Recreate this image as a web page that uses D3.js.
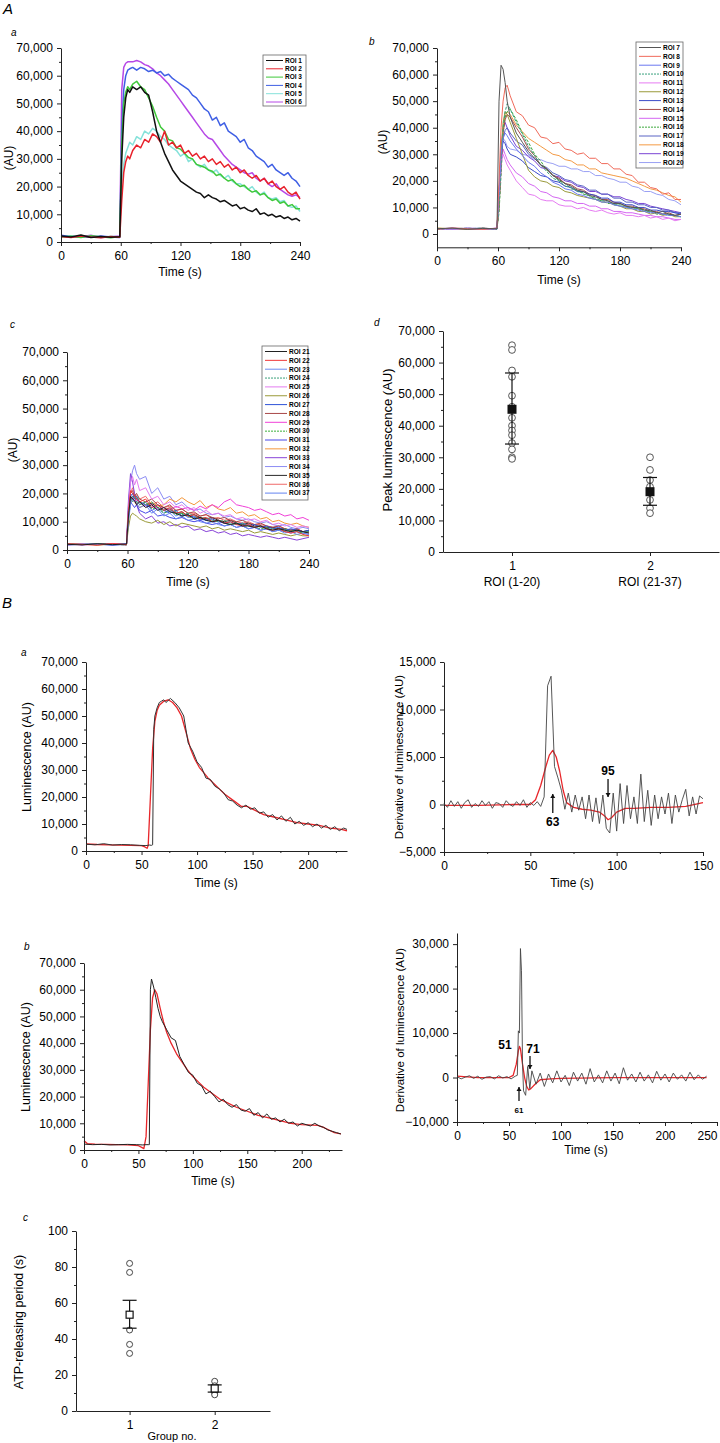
<!DOCTYPE html>
<html><head><meta charset="utf-8">
<script src="https://cdn.jsdelivr.net/npm/d3@7"></script>
<style>body{margin:0;background:#fff}svg text{font-family:"Liberation Sans",Arial,sans-serif;fill:#000}</style>
</head><body>
<script>
// ---------------- DATA ----------------
// Panel A a (values in thousands AU)
const tA=[0,10,20,30,40,50,59,61,63,65,67,69,72,76,80,84,88,92,96,100,104,108,112,116,120,124,128,132,136,140,144,148,152,156,160,164,168,172,176,180,184,188,192,196,200,204,208,212,216,220,224,228,232,236,240];
const aaNames=["ROI 1","ROI 2","ROI 3","ROI 4","ROI 5","ROI 6"];
const aaColors=["#111111","#e8222c","#3fc83a","#3f5fe4","#86e2da","#b648e6"];
const aaValues=[
[2.2,1.8,2.5,1.6,2.0,1.7,1.9,30,45,52,55,54,56,55,56,54,53,47,40,36,32,29,26,24,22,21,20,19,18,17.5,16,17,16,15.5,14.5,15,14,13,13.5,12,12.5,11.5,11,12,10,10.5,9.5,10,9,9.5,8.5,9,8,8.5,7.5],
[2.0,1.6,2.2,1.8,1.5,2.0,1.7,15,25,29,31,30,33,35,34,37,36,39,38,36,40,35,36,34,35,32,33,31,32,30,31,29,30,28,29,27,28,26,27,25,26,24,23,24,22,23,21,22,20,19,20,18,17,18,15.5],
[1.8,2.1,1.6,2.3,1.9,1.5,2.0,35,50,54,56,55,57,58,56,55,52,49,45,41.5,40,37,36.5,34,33.5,32,30.5,30,28,27.5,27,26,25.5,24,24.5,23,22,22.5,21,20,20.5,19,18,18.5,17,17.5,16,15,15.5,14,14.5,13,13.5,12,12],
[2.4,1.9,2.0,1.7,2.2,1.8,1.6,40,55,60,62,62.5,63,62,63,62.5,61.5,62,61,61.5,60,60.5,59,58,57,56,55,53,52,50,48,47,44,45,42,43,40,39,38,36,37,34,33,31,30,29,27,28,26,25,24,25,23,22,20],
[1.9,2.3,1.7,2.0,1.6,2.1,1.8,20,28,32,34,36,35,38,37,40,39,41,40,38,37,35,34,33,31,32,29,30,28,27,28,26,25,26,24,23,24,22,21,21,20,19,20,18,17,18,16,15.5,16,14.5,15,13,12.5,13,11],
[2.0,1.7,1.9,2.4,1.6,1.9,2.2,55,63,64.5,65,65,65,65.5,65,64,63.5,62.5,61,60,58.5,57,55,53,51,49,47,45,43,41,39,37.5,37,35,33,31,29.5,28,27,26,25,24.5,25,23,22,23,21,20,21,19,18,17,16.5,17,16]
];
// Panels A b / A c share one time grid
const tB=[0,15,30,45,59,61,63,65,67,69,72,78,84,90,96,102,108,114,120,126,132,138,144,150,156,162,168,174,180,186,192,198,204,210,216,222,228,234,240];
const abNames=["ROI 7","ROI 8","ROI 9","ROI 10","ROI 11","ROI 12","ROI 13","ROI 14","ROI 15","ROI 16","ROI 17","ROI 18","ROI 19","ROI 20"];
const abColors=["#555555","#f06a5a","#6a78f0","#38a07c","#e67cf2","#9a9a3a","#3a4ac8","#a84c4c","#d466f2","#3ca83c","#5a64c4","#f49a44","#7a44d4","#9aa0f4"];
const abDashed=[0,0,0,1,0,0,0,0,0,1,0,0,0,0];
const abValues=[
[2.0,2.2,1.8,2.1,2.0,50,63.5,62,57,50,44,38,34.5,31,28.5,26,24.5,22,20.5,19,18,16.5,16,14.5,14,13,12.5,11.5,11.5,10.5,10,10,9,9,8,8.5,7.5,7,7.5],
[1.8,2.3,2.0,1.7,2.2,20,40,50,55,56,52,46,44.5,41,40,36.5,36,34,34.5,32,31.5,30,30.5,28.5,28.5,26.5,26.5,24.5,24.5,22.5,22,19.5,19.5,17.5,17,15,15.5,13,13],
[2.1,1.9,2.2,1.8,2.0,15,30,36,38,37,35,32,29.5,27,25.5,23,21.5,19.5,18.5,17,16.5,15,14.5,13.5,13,12,12,11,10.5,10,9.5,9,8.5,8,8,7.5,7,7,6.5],
[1.9,2.1,2.0,2.2,1.8,10,25,40,46,49,47,42,37.5,33,29.5,26,23.5,21,20,18,17.5,16,15.5,14,13.5,12.5,12.5,11,11,10,10,9.5,9,8.5,8,7.5,7.5,7,6.5],
[2.0,1.8,2.1,1.9,2.2,15,28,30,28,26,24,20,17.5,15,14.5,13,12.5,12.5,11,10.5,10.5,9.5,10,9,8.5,9,8,7.5,8,7,7,6.5,7,6,6.5,5.5,6,5,5.5],
[2.2,2.0,1.9,2.1,2.0,10,30,42,46,45,42,36,30,24,21.5,20,19.5,18,17.5,16,15.5,14.5,14,13.5,13,12,12,11,10.5,9.5,9.5,8.5,8.5,7.5,8,7,7.5,6.5,6.5],
[1.9,2.2,2.0,1.8,2.1,15,30,35,34,32,30,29,27.5,25,23.5,22,21.5,20,19.5,18,17.5,16,16,15,14.5,13.5,13.5,12,12,11,11,10,10,9,9,8.5,8.5,8,7.5],
[2.0,2.1,1.8,2.2,1.9,10,25,38,43,45,44,40,36.5,32,29.5,26,24.5,22,21,19,18.5,17,16.5,15,14.5,13,13,12,11.5,10.5,10.5,9.5,9.5,8.5,8.5,7.5,8,7,7.5],
[2.1,1.9,2.2,2.0,1.8,12,25,32,30,28,26,23,21.5,19,18,16,15.5,14,13.5,12.5,12.5,11.5,11.5,10.5,10.5,9.5,9.5,8.5,8.5,8,8,7.5,7,7,6.5,6.5,6,5.5,5.5],
[1.8,2.0,2.2,1.9,2.1,8,22,38,44,46,47,43,38,34.5,30,27.5,24,22.5,20,19,17,16.5,15,14.5,13,12.5,11.5,11.5,10.5,10.5,9.5,9.5,8.5,8.5,7.5,7.5,7,7,6.5],
[2.0,1.8,2.1,2.2,1.9,12,28,36,39,40,38,35,33.5,30,28.5,26,25,23,22,20.5,20,18.5,18,16.5,16.5,15,15,13.5,13.5,12,12,11,11,10,10,9,9,8,8],
[2.2,2.0,1.9,2.1,2.0,15,30,40,45,46,45,41,38.5,36,34.5,33,31.5,30,29.5,28,27.5,26,26,24.5,24.5,23,22.5,22,21.5,21,20,19,18,17,16.5,15.5,14.5,14,12],
[1.9,2.1,2.0,1.8,2.2,15,32,40,42,40,37,33,31.5,29,27.5,25,24.5,22,21.5,20,19.5,18,17.5,16,16,15,15,14,14,13,12.5,11.5,11.5,10.5,10,9.5,9,8.5,8],
[2.0,2.2,1.8,2.0,2.1,15,30,36,35,33,32,31.5,30,29.5,28,28,27,26.5,25.5,25.5,24.5,24.5,23.5,23.5,22,22,21,20.5,19.5,19.5,18,17.5,16,16,15,14.5,13,12.5,11]
];
const acNames=["ROI 21","ROI 22","ROI 23","ROI 24","ROI 25","ROI 26","ROI 27","ROI 28","ROI 29","ROI 30","ROI 31","ROI 32","ROI 33","ROI 34","ROI 35","ROI 36","ROI 37"];
const acColors=["#222222","#f03838","#6a8af0","#3aa07a","#e47cf0","#9a9a38","#2e52d8","#a84848","#f040d8","#3cb03c","#4848e8","#f4983c","#8844d8","#8c8cf4","#2a2a2a","#f06a6a","#6484f0"];
const acDashed=[0,0,0,1,0,0,0,0,0,1,0,0,0,0,0,0,0];
const acValues=[
[2.0,1.8,2.2,1.9,2.1,12,19,18,17.5,16,17,15,16,14,15,13.5,13,12,12.5,11,11.5,10.5,10,10.5,9.5,9,9.5,8.5,8.5,8,8.5,7.5,7,7.5,7,6.5,7,6.5,6],
[2.2,2.0,1.7,2.3,1.9,14,21,20,19,18,17,18,15,16,14,15,13,13.5,12,12.5,11,11.5,10,10.5,9.5,10,9,8.5,9,8,8.5,7.5,7,7.5,6.5,6,6.5,5.5,5],
[1.9,2.1,2.0,1.8,2.2,10,16,18,17,16.5,15,16,13,14.5,12,13,11,12,10.5,11,10,9.5,10,9,8.5,9,8,8.5,7.5,8,7,7.5,6.5,7,6,6.5,5.5,6,5.5],
[2.1,1.9,2.3,2.0,1.8,11,17,19,18,19,17,16,17,15,14,15,13.5,12.5,13,12,11,11.5,10.5,10,10.5,9.5,9,9.5,8.5,8,8.5,7.5,7.5,7,7.5,6.5,7,6.5,6.5],
[1.8,2.2,1.9,2.1,2.0,15,24,26,23,25,21,22,18,19,16,17,15,16,14,15,13,14,12.5,13,12,12.5,11,11.5,10.5,11,10,10.5,9,9.5,8.5,9,8,8.5,8],
[2.0,2.3,1.8,2.0,1.9,8,12,13,12.5,12,11,10,9.5,10.5,9,10,8.5,9.5,9,8.5,8,8.5,7.5,8,7,7.5,7,6.5,7,6,6.5,6,5.5,6,5.5,5,5.5,5,5],
[2.2,1.9,2.1,1.7,2.0,13,19,20,18,19,17,16,15,16,14,13,14,12,12.5,11.5,11,10.5,11,10,9.5,10,9,9.5,8.5,9,8,8.5,7.5,8,7,7.5,7,6.5,7],
[1.9,2.0,2.2,2.1,1.8,14,20,21,19,20,18,17,18,16,15,16,14,14.5,13,13.5,12,12.5,11.5,11,11.5,10.5,10,10.5,9.5,9,9.5,8.5,8,8.5,7.5,7,7.5,6.5,6.5],
[2.1,1.8,2.0,2.2,1.9,12,18,19,17,18,17,15.5,16,14.5,15,14,15.5,14.5,15,14,15.5,14.5,16,15,17,18,16,15.5,15,14,14.5,13.5,12.5,13,12,12.5,11,11.5,10.5],
[2.0,2.1,1.9,2.3,2.0,12,18,17,18.5,17,16,17,14.5,15,13,14,12.5,13,12,11,11.5,10.5,10,10.5,9.5,9,9.5,8.5,8.5,8,7.5,8,7,7.5,6.5,7,6.5,6,6.5],
[1.8,2.0,2.1,1.9,2.2,12,17,16,15,16,14,13,14,12,12.5,11.5,11,11.5,10.5,10,10.5,9.5,9,9.5,8.5,9,8,8.5,7.5,8,7,7.5,6.5,7,6.5,6,6.5,6,5.5],
[2.3,2.0,1.8,2.1,2.0,11,17,18,17,16,15,16,17,15.5,16,18,17,18.5,17,16,17.5,15,16,14.5,14,15,13,13.5,12,12.5,11,11.5,10,10.5,9.5,9,9.5,8.5,8],
[2.0,1.9,2.2,1.8,2.1,18,27,24,20,16,13,11,12,9.5,10,8.5,9,8,8.5,7,7.5,6.5,7,6,6.5,5.5,6,5,5.5,5,4.5,5,4.5,4,4.5,4,3.5,4,4.5],
[1.9,2.2,2.0,2.1,1.8,16,24,28,30,27,25,26,20,22,18,19,16,17,15,14,14.5,13,12.5,13,11.5,12,11,10.5,11,10,9.5,10,9,8.5,9,8,7.5,8,7.5],
[2.1,2.0,1.9,2.2,2.0,13,19,18,19.5,18,17,16,16.5,15,14,14.5,13,13.5,12,12.5,11.5,11,11.5,10.5,10,10.5,9.5,9,9.5,8.5,8.5,8,8,7.5,7.5,7,7,6.5,7],
[2.0,2.2,2.1,1.9,2.3,14,20,22,20,19,18,19,16,17,15,15.5,14,14.5,13,13,12,12.5,11,11.5,10.5,11,10,9.5,10,9,9,8.5,8,8.5,7.5,7,7.5,6.5,6],
[1.8,2.0,2.2,2.0,1.9,12,18,19,17,18,16,17,14,15,13,14,12,13,11.5,12,10.5,11,10,10.5,9.5,9,9.5,8.5,9,8,8.5,7.5,8,7,7.5,6.5,7,6.5,6.5]
];
// Panel A d: peak luminescence (thousands)
const adCats=[1,2];
const adCatLabels=["ROI (1-20)","ROI (21-37)"];
const adGroup1=[65.5,64,57.5,55.5,49.5,46,42.5,40,38.5,37,34.5,32.5,30,29.5];
const adGroup2=[30,26,22.8,20.7,16.5,13.9,12.3];
const adMean=[45.2,19.1];
const adLow=[34.2,14.8];
const adHigh=[56.7,23.6];
// Panel B a: raw and smoothed luminescence
const tBaRaw=[0,8,16,24,32,40,48,54,57,59,60,61,62,64,66,68,70,72,76,80,84,88,92,96,100,104,108,112,116,120,124,128,132,136,140,144,148,152,156,160,164,168,172,176,180,184,188,192,196,200,204,208,212,216,220,224,228,232,235];
const baRaw=[2.5,2.3,2.7,2.2,2.4,2.3,2.1,2.0,2.2,2.1,2.3,45,50,53,55,55.5,56,55,56.5,55,53,50,40,37,33,31,27,26.5,24,23,21.5,19,18.5,17,16,17,15.5,16,14,14.5,12.5,13.5,11.5,13,11,12.5,10,11,9.5,10.5,9,10,8.5,9.5,8,9,7.5,8.5,8];
const tBaFit=[0,10,20,30,40,50,53,55,56,58,60,62,64,66,70,74,78,82,86,90,94,98,102,106,110,115,120,125,130,135,140,145,150,155,160,170,180,190,200,210,220,230,235];
const baFit=[2.6,2.4,2.3,2.2,2.1,2.0,1.5,1.0,2,20,38,48,52,54,55.5,56,55,53,50,44,38,34,31,29,27,25,23,21,19.5,18,16.5,16.5,15.5,14.5,13.5,12.5,11.5,10.5,10,9.5,8.5,8,7.5];
const tBaDer=[0,2,4,6,8,10,12,14,16,18,20,22,24,26,28,30,32,34,36,38,40,42,44,46,48,50,52,54,56,58,60,62,64,66,68,70,72,74,76,78,80,82,84,86,88,90,92,94,96,98,100,102,104,106,108,110,112,114,116,118,120,122,124,126,128,130,132,134,136,138,140,142,144,146,148,150];
const baDer=[0.1,-0.3,0.4,-0.2,0.3,-0.4,0.2,0.5,-0.3,0.1,-0.2,0.4,-0.1,0.3,-0.4,0.2,0.1,-0.3,0.4,0.0,-0.2,0.3,-0.1,0.5,-0.3,0.2,-0.1,0.3,-0.2,0.8,12.5,13.5,4.0,2.8,1.5,-0.5,1.2,-0.8,1.0,-0.6,0.8,-1.5,1.0,-1.8,0.7,-2.0,1.0,-2.5,-3.0,1.2,-2.8,2.2,-2.0,2.0,-1.5,0.8,-2.0,3.2,-1.8,1.5,-2.2,1.0,-1.5,0.8,-1.0,1.2,-2.0,1.0,-0.8,0.5,1.6,-1.2,0.8,-1.0,0.9,0.6];
const tBaDerFit=[0,20,40,50,53,56,59,61,63,65,67,69,71,75,80,85,90,93,95,97,100,105,110,120,130,140,150];
const baDerFit=[-0.1,-0.1,0,0,0.5,2,4,5.2,5.7,5.0,3.5,1.5,0.2,-0.3,-0.5,-0.6,-0.8,-1.2,-1.6,-1.4,-0.8,-0.4,-0.4,-0.3,-0.3,-0.2,0.2];
// Panel B b
const tBbRaw=[0,8,16,24,32,40,48,54,57,59,60,61,62,64,66,68,70,72,76,80,84,88,92,96,100,104,108,112,116,120,124,128,132,136,140,144,148,152,156,160,164,168,172,176,180,184,188,192,196,200,204,208,212,216,220,224,228,232,236];
const bbRaw=[2.2,2.0,2.1,1.9,2.0,2.1,2.0,1.9,2.0,2.0,2.0,60,64,61,57,53,50,48,45,42,41,35,32,29,28,25,24,21,22,20,18,19,17,16,17,15,14.5,15.5,13,14,12,13.5,11.5,12,10.5,11.5,10,10.5,9,10,9.5,9,10,9,8.5,7.5,7,6.5,6];
const tBbFit=[0,3,10,20,30,40,50,53,55,57,59,61,63,65,67,70,73,76,80,85,90,95,100,105,110,115,120,125,130,140,150,160,170,180,190,200,210,215,220,225,230,236];
const bbFit=[3.5,2.4,2.2,2.1,2.0,1.9,1.6,1.0,0.5,5,25,45,57,60,58.5,53,48,44,40,36,33,30,27.5,25.5,23.5,22,20.5,19,18,16,14.5,13,12,11,10,9.5,9.3,9.2,8.5,7.5,6.5,6];
const tBbDer=[0,4,8,12,16,20,24,28,32,36,40,44,48,52,56,58,59,60,61,62,63,64,66,68,70,72,76,80,84,88,92,96,100,104,108,112,116,120,124,128,132,136,140,144,148,152,156,160,164,168,172,176,180,184,188,192,196,200,204,208,212,216,220,224,228,232,236,240];
const bbDer=[0.2,-0.3,0.1,0.4,-0.2,0.3,-0.4,0.1,0.2,-0.3,0.4,-0.1,0.2,-0.3,0.3,0.5,10.5,10,29,24,3,-3,-4,2.5,-2.5,1.5,-1.5,1.0,-2.0,0.8,-1.2,1.5,-1.0,0.5,-1.8,1.2,-0.8,1.0,-1.5,2.0,-1.0,0.6,-1.2,1.5,-0.8,1.0,-1.4,2.2,-0.6,0.8,-1.0,1.2,-0.8,0.6,-1.2,1.4,-0.6,0.8,-1.0,1.0,-0.4,0.6,-0.8,1.2,-0.5,0.6,-0.4,0.3];
const tBbDerFit=[0,20,40,50,54,57,59,60,61,63,65,67,69,71,75,80,90,100,150,200,240];
const bbDerFit=[0.3,0,0,0,0.5,3,6,7,6.5,3,0,-2,-2.8,-2.5,-1.5,-0.5,-0.3,-0.2,0,0,0];
// Panel B c: ATP-releasing period (s)
const bcCats=[1,2];
const bcGroup1=[82,77,45,37,32];
const bcGroup2=[16.5,14,10,9];
const bcMean=[53.5,12.5];
const bcLow=[46,10.5];
const bcHigh=[61.5,14.5];

// ---------------- DRAWING ----------------
const svg=d3.select("body").append("svg").attr("width",720).attr("height",1443);
const comma=d3.format(",");
const FS=12;
function panel(p){
  const x=d3.scaleLinear().domain(p.xd).range([p.l,p.r]);
  const y=d3.scaleLinear().domain(p.yd).range([p.b,p.t]);
  const g=svg.append("g");
  const xb=p.b;
  g.append("g").attr("class","xax").attr("transform",`translate(0,${xb})`)
    .call(d3.axisBottom(x).tickValues(p.xt).tickSize(4).tickSizeOuter(0).tickPadding(5).tickFormat(p.xf||(d=>d)));
  if(p.xm) g.append("g").attr("transform",`translate(0,${xb})`)
    .call(d3.axisBottom(x).tickValues(p.xm).tickSize(2).tickFormat("")).call(s=>s.select(".domain").remove());
  g.append("g").attr("transform",`translate(${p.l},0)`)
    .call(d3.axisLeft(y).tickValues(p.yt).tickSize(4).tickSizeOuter(0).tickPadding(4).tickFormat(p.yf||(d=>comma(d))));
  if(p.ym) g.append("g").attr("transform",`translate(${p.l},0)`)
    .call(d3.axisLeft(y).tickValues(p.ym).tickSize(2).tickFormat("")).call(s=>s.select(".domain").remove());
  g.selectAll(".tick text").attr("font-size",FS).attr("font-family",null).style("fill","#000");
  g.selectAll("path.domain,.tick line").attr("stroke","#222");
  return {x,y,g};
}
function lines(P,t,vals,colors,width,dashed,scale){
  vals.forEach((v,i)=>{
    const line=d3.line().x((d,j)=>P.x(t[j])).y(d=>P.y(d*scale));
    P.g.insert("path",":first-child").datum(v).attr("d",line).attr("fill","none")
      .attr("stroke",colors[i]).attr("stroke-width",width).attr("stroke-linejoin","round")
      .attr("stroke-dasharray",dashed&&dashed[i]?"3,1.5":null);
  });
}
function txt(x,y,s,o={}){
  const t=svg.append("text").attr("x",x).attr("y",y).text(s)
    .attr("font-size",o.fs||FS).attr("text-anchor",o.anchor||"middle");
  if(o.rot) t.attr("transform",`rotate(-90,${x},${y})`);
  if(o.italic) t.attr("font-style","italic");
  if(o.bold) t.attr("font-weight","bold");
  return t;
}
function legend(x0,y0,w,h,names,colors,dashed,rowH,lineW){
  svg.append("rect").attr("x",x0).attr("y",y0).attr("width",w).attr("height",h).attr("fill","#fff").attr("stroke","#666").attr("stroke-width",0.8);
  names.forEach((n,i)=>{
    const yy=y0+5.5+i*rowH;
    svg.append("line").attr("x1",x0+3).attr("x2",x0+3+lineW).attr("y1",yy).attr("y2",yy)
      .attr("stroke",colors[i]).attr("stroke-width",1)
      .attr("stroke-dasharray",dashed&&dashed[i]?"2,1":null);
    svg.append("text").attr("x",x0+5+lineW).attr("y",yy+2.3).text(n).attr("font-size",6.5).attr("font-weight","bold");
  });
}
const yT70=d3.range(0,70001,10000), yM70=d3.range(5000,70000,10000);

// ---- A a ----
const Aa=panel({l:61,r:300,t:48,b:242,xd:[0,240],yd:[0,70000],xt:[0,60,120,180,240],xm:[30,90,150,210],yt:yT70,ym:yM70});
lines(Aa,tA,aaValues,aaColors,1.5,null,1000);
legend(263,55,43,51,aaNames,aaColors,null,8.3,17);
txt(180,276,"Time (s)");
txt(13,158,"(AU)",{rot:true});
// ---- A b ----
const Ab=panel({l:437,r:681,t:48,b:247.3,xd:[0,240],yd:[-5000,70000],xt:[0,60,120,180,240],xm:[30,90,150,210],yt:yT70,ym:yM70});
lines(Ab,tB,abValues,abColors,1.0,abDashed,1000);
legend(636,42,47,126,abNames,abColors,abDashed,8.85,22);
txt(559,284,"Time (s)");
txt(387,142,"(AU)",{rot:true});
// ---- A c ----
const Ac=panel({l:67,r:309,t:352,b:550,xd:[0,240],yd:[0,70000],xt:[0,60,120,180,240],xm:[30,90,150,210],yt:yT70,ym:yM70});
lines(Ac,tB,acValues,acColors,1.0,acDashed,1000);
legend(262,346,46,154,acNames,acColors,acDashed,8.85,22);
txt(188,586,"Time (s)");
txt(17,450,"(AU)",{rot:true});
// ---- A d ----
const Ad=panel({l:443,r:719,t:331,b:552,xd:[0.5,2.5],yd:[0,70000],xt:adCats,yt:yT70,ym:yM70});
[adGroup1,adGroup2].forEach((gv,i)=>{
  Ad.g.selectAll(null).data(gv).enter().append("circle").attr("cx",Ad.x(adCats[i])).attr("cy",d=>Ad.y(d*1000)).attr("r",3.4)
    .attr("fill","#fff").attr("stroke","#444").attr("stroke-width",0.9);
});
adCats.forEach((c,i)=>{
  const cx=Ad.x(c);
  Ad.g.append("line").attr("x1",cx).attr("x2",cx).attr("y1",Ad.y(adLow[i]*1000)).attr("y2",Ad.y(adHigh[i]*1000)).attr("stroke","#111").attr("stroke-width",1.2);
  [adLow[i],adHigh[i]].forEach(v=>Ad.g.append("line").attr("x1",cx-7).attr("x2",cx+7).attr("y1",Ad.y(v*1000)).attr("y2",Ad.y(v*1000)).attr("stroke","#111").attr("stroke-width",1.2));
  Ad.g.append("rect").attr("x",cx-4.5).attr("y",Ad.y(adMean[i]*1000)-4.5).attr("width",9).attr("height",9).attr("fill","#111");
  txt(cx,586,adCatLabels[i]);
});
txt(392,440,"Peak luminescence (AU)",{rot:true,fs:13});
// ---- B a left ----
const BaL=panel({l:86,r:347,t:662,b:851,xd:[0,235],yd:[0,70000],xt:[0,50,100,150,200],xm:[25,75,125,175,225],yt:yT70,ym:yM70});
lines(BaL,tBaFit,[baFit],["#e8262a"],1.3,null,1000);
lines(BaL,tBaRaw,[baRaw],["#333"],1,null,1000);
BaL.g.select("path").raise();
txt(216,887,"Time (s)");
txt(31,757,"Luminescence (AU)",{rot:true,fs:12.5});
// ---- B a right ----
const BaR=panel({l:444,r:703,t:662,b:852,xd:[0,150],yd:[-5000,15000],xt:[0,50,100,150],xm:[25,75,125],yt:[-5000,0,5000,10000,15000],ym:[-2500,2500,7500,12500]});
lines(BaR,tBaDerFit,[baDerFit],["#e8262a"],1.3,null,1000);
lines(BaR,tBaDer,[baDer],["#444"],0.9,null,1000);
BaR.g.select("path").raise();
txt(572,887,"Time (s)");
txt(403,757,"Derivative of luminescence (AU)",{rot:true,fs:11.5});
function arrow(x,y1,y2){
  svg.append("line").attr("x1",x).attr("x2",x).attr("y1",y1).attr("y2",y2).attr("stroke","#111").attr("stroke-width",1.3);
  const d=y2>y1?1:-1;
  svg.append("path").attr("d",`M${x-2.5},${y2-4*d}L${x+2.5},${y2-4*d}L${x},${y2}Z`).attr("fill","#111");
}
txt(BaR.x(95),775,"95",{fs:12,bold:true});
arrow(BaR.x(95),779,797);
arrow(BaR.x(63),813,794);
txt(BaR.x(63),826,"63",{fs:12,bold:true});
// ---- B b left ----
const BbL=panel({l:84,r:342,t:963,b:1150,xd:[0,237],yd:[0,70000],xt:[0,50,100,150,200],xm:[25,75,125,175,225],yt:yT70,ym:yM70});
lines(BbL,tBbFit,[bbFit],["#e8262a"],1.3,null,1000);
lines(BbL,tBbRaw,[bbRaw],["#222"],1,null,1000);
BbL.g.select("path").raise();
txt(213,1185,"Time (s)");
txt(30,1057,"Luminescence (AU)",{rot:true,fs:12.5});
// ---- B b right ----
const BbR=panel({l:457,r:717,t:933,b:1122,xd:[0,250],yd:[-10000,32500],xt:[0,50,100,150,200,250],xm:[25,75,125,175,225],yt:[-10000,0,10000,20000,30000],ym:[-5000,5000,15000,25000]});
BbR.g.select(".xax").selectAll(".tick text").filter(d=>d===250).attr("dx",-10);
lines(BbR,tBbDerFit,[bbDerFit],["#e8262a"],1.3,null,1000);
lines(BbR,tBbDer,[bbDer],["#444"],0.9,null,1000);
BbR.g.select("path").raise();
txt(586,1154,"Time (s)");
txt(404,1030,"Derivative of luminescence (AU)",{rot:true,fs:11.5});
txt(505,1049,"51",{fs:12,bold:true});
txt(533,1053,"71",{fs:12,bold:true});
arrow(530,1056,1069);
arrow(519,1101,1087);
txt(519,1113,"61",{fs:8,bold:true});
// ---- B c ----
const Bc=panel({l:76,r:270,t:1231,b:1411,xd:[0.37,2.65],yd:[0,100],xt:bcCats,yt:[0,20,40,60,80,100],ym:[10,30,50,70,90],yf:d=>d});
[bcGroup1,bcGroup2].forEach((gv,i)=>{
  Bc.g.selectAll(null).data(gv).enter().append("circle").attr("cx",Bc.x(bcCats[i])).attr("cy",d=>Bc.y(d)).attr("r",3)
    .attr("fill","#fff").attr("stroke","#333").attr("stroke-width",0.9);
});
bcCats.forEach((c,i)=>{
  const cx=Bc.x(c);
  Bc.g.append("line").attr("x1",cx).attr("x2",cx).attr("y1",Bc.y(bcLow[i])).attr("y2",Bc.y(bcHigh[i])).attr("stroke","#111").attr("stroke-width",1.2);
  [bcLow[i],bcHigh[i]].forEach(v=>Bc.g.append("line").attr("x1",cx-7).attr("x2",cx+7).attr("y1",Bc.y(v)).attr("y2",Bc.y(v)).attr("stroke","#111").attr("stroke-width",1.2));
  Bc.g.append("rect").attr("x",cx-3.5).attr("y",Bc.y(bcMean[i])-3.5).attr("width",7).attr("height",7).attr("fill","#fff").attr("stroke","#111").attr("stroke-width",1.2);
});
txt(172,1440,"Group no.",{fs:11});
txt(23,1322,"ATP-releasing period (s)",{rot:true,fs:12.5});

// ---- panel letters ----
txt(3,14,"A",{anchor:"start",italic:true,fs:15});
txt(11,36,"a",{anchor:"start",italic:true,fs:10});
txt(369,45,"b",{anchor:"start",italic:true,fs:10});
txt(10,328,"c",{anchor:"start",italic:true,fs:10});
txt(374,326,"d",{anchor:"start",italic:true,fs:10});
txt(2,608,"B",{anchor:"start",italic:true,fs:15});
txt(21,656,"a",{anchor:"start",italic:true,fs:10});
txt(24,950,"b",{anchor:"start",italic:true,fs:10});
txt(23,1221,"c",{anchor:"start",italic:true,fs:10});
</script>
</body></html>
